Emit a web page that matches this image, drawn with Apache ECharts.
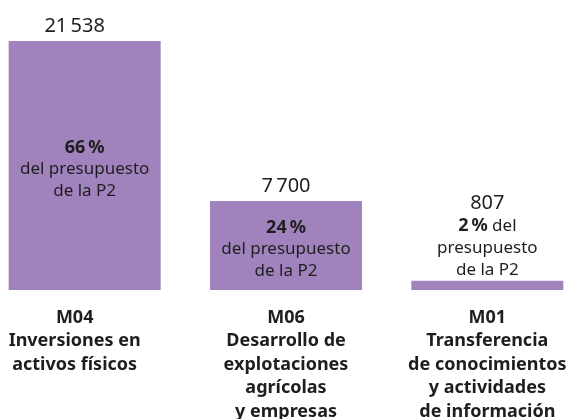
<!DOCTYPE html>
<html>
<head>
<meta charset="utf-8">
<script src="https://cdn.jsdelivr.net/npm/echarts@6/dist/echarts.min.js"></script>
<style>
  html, body { margin: 0; padding: 0; background: #fff; }
  #chart { width: 571px; height: 419px; }
</style>
</head>
<body>
<div id="chart"></div>
<script>
var categories = [
    'M04\nInversiones en\nactivos físicos',
    'M06\nDesarrollo de\nexplotaciones\nagrícolas\ny empresas',
    'M01\nTransferencia\nde conocimientos\ny actividades\nde información'
];
var values = [21538, 7700, 807];
var valueLabels = ['21\u2009538', '7\u2009700', '807'];
var shareLabels = ['66\u2009%', '24\u2009%', '2\u2009%'];
var shareText = 'del presupuesto\nde la P2';

var barColor = '#a083bd';
var textColor = '#1e1e1e';
var fontFamily = '"Noto Sans", sans-serif';

// inside labels for the two big bars, the small one carries everything on top
var insideData = values.map(function (v, i) {
    return {
        value: v,
        label: { show: i < 2 }
    };
});

// first column's top number and category text sit a bit left of the bar centre
var topData = values.map(function (v, i) {
    return { value: v, label: { offset: [i === 0 ? -10 : 0, 0], distance: i < 2 ? 4 : 0 } };
});

var catStyle = { fontFamily: fontFamily, fontSize: 18, fontWeight: 'bold', lineHeight: 23.5, color: textColor };

var option = {
    animation: false,
    grid: { left: -16, right: -17, top: 41, bottom: 129, outerBoundsMode: 'none', containLabel: false },
    xAxis: {
        type: 'category',
        data: categories,
        axisLine: { show: false },
        axisTick: { show: false },
        axisLabel: {
            interval: 0,
            margin: 16,
            fontFamily: fontFamily,
            fontSize: 18,
            fontWeight: 'bold',
            lineHeight: 23.5,
            color: textColor,
            verticalAlign: 'top',
            formatter: function (val, idx) {
                var key = idx === 0 ? 'l' : 'c';
                return val.split('\n').map(function (s) {
                    return '{' + key + '|' + s + '}';
                }).join('\n');
            },
            rich: {
                l: Object.assign({ padding: [0, 20, 0, 0] }, catStyle),
                c: catStyle
            }
        }
    },
    yAxis: {
        type: 'value',
        min: 0,
        max: 21538,
        show: false,
        splitLine: { show: false }
    },
    series: [
        {
            type: 'bar',
            barWidth: 152,
            data: insideData,
            itemStyle: { color: barColor },
            label: {
                position: 'inside',
                offset: [0, 4],
                fontFamily: fontFamily,
                formatter: function (p) {
                    return '{b|' + shareLabels[p.dataIndex] + '}\n{t|' + shareText.replace('\n', '}\n{t|') + '}';
                },
                rich: {
                    b: { fontSize: 18, fontWeight: 'bold', color: textColor, lineHeight: 22, fontFamily: fontFamily },
                    t: { fontSize: 17, color: textColor, lineHeight: 22, fontFamily: fontFamily }
                }
            }
        },
        {
            type: 'bar',
            barWidth: 152,
            barGap: '-100%',
            data: topData,
            itemStyle: { color: 'transparent' },
            silent: true,
            label: {
                show: true,
                position: 'top',
                fontFamily: fontFamily,
                formatter: function (p) {
                    var i = p.dataIndex;
                    if (i < 2) return '{v|' + valueLabels[i] + '}';
                    return '{v|' + valueLabels[i] + '}\n{b|' + shareLabels[i] + '}{t| del}\n{t|presupuesto}\n{t|de la P2}';
                },
                rich: {
                    v: { fontSize: 20, color: textColor, lineHeight: 22, fontFamily: fontFamily },
                    b: { fontSize: 18, fontWeight: 'bold', color: textColor, lineHeight: 22, fontFamily: fontFamily },
                    t: { fontSize: 17, color: textColor, lineHeight: 22, fontFamily: fontFamily }
                }
            }
        }
    ]
};

var myChart = echarts.init(document.getElementById('chart'));
myChart.setOption(option);
</script>
</body>
</html>
